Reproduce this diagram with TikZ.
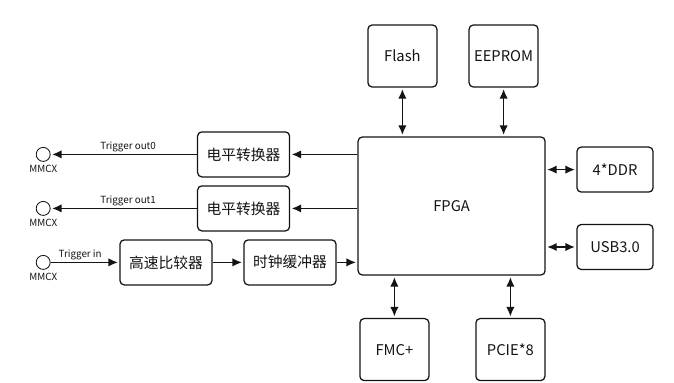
\documentclass[tikz,border=0pt]{standalone}
\usepackage{fontspec}
\setmainfont{Noto Sans CJK SC}
\usetikzlibrary{arrows.meta,positioning}
\definecolor{BdInk}{RGB}{20,20,20}
\tikzset{
  bd/box/.style={
    draw=BdInk,
    line width=0.9pt,
    rounded corners=3pt,
    fill=white,
    align=center,
    text=BdInk,
    minimum width=1.725cm,
    minimum height=1.55cm,
    font=\fontsize{10.5}{12}\selectfont
  },
  bd/wide/.style={bd/box, minimum width=2.3cm, minimum height=1.125cm},
  bd/side/.style={bd/box, minimum width=1.9cm, minimum height=1.125cm},
  bd/port/.style={circle, draw=BdInk, line width=0.6pt, fill=white, minimum size=0.35cm, inner sep=0pt},
  bd/tag/.style={font=\fontsize{7}{8}\selectfont, text=BdInk, inner sep=1pt},
  bd/arrow/.style={-{Latex[length=2.4mm,width=2.1mm]}, line width=1.1pt, draw=BdInk, shorten >=1pt},
  bd/both/.style={{Latex[length=2.4mm,width=2.1mm]}-{Latex[length=2.4mm,width=2.1mm]}, line width=1.1pt, draw=BdInk, shorten >=1pt, shorten <=1pt}
}

\begin{document}
\begin{tikzpicture}[x=1cm,y=1cm]
  \useasboundingbox (0,0) rectangle (16.85,9.55);
  % FPGA and its memories / interfaces
  \node[bd/box,minimum width=4.675cm,minimum height=3.45cm] (fpga) at (11.29,4.40) {FPGA};
  \node[bd/box] (flash) at (10.06,8.15) {Flash};
  \node[bd/box] (eeprom) at (12.59,8.15) {EEPROM};
  \node[bd/box] (fmc) at (9.86,0.81) {FMC+};
  \node[bd/box] (pcie) at (12.76,0.81) {PCIE*8};
  \node[bd/side] (ddr) at (15.375,5.31) {4*DDR};
  \node[bd/side] (usb) at (15.375,3.375) {USB3.0};
  % trigger chain
  \node[bd/wide] (lvl0) at (6.09,5.69) {电平转换器};
  \node[bd/wide] (lvl1) at (6.09,4.34) {电平转换器};
  \node[bd/wide] (comp) at (4.15,2.99) {高速比较器};
  \node[bd/wide] (clkbuf) at (7.25,2.99) {时钟缓冲器};
  \node[bd/port] (c0) at (1.08,5.69) {};
  \node[bd/port] (c1) at (1.08,4.34) {};
  \node[bd/port] (c2) at (1.08,2.99) {};
  \node[bd/tag,below=1.5pt of c0] (m0) {MMCX};
  \node[bd/tag,below=1.5pt of c1] (m1) {MMCX};
  \node[bd/tag,below=1.5pt of c2] (m2) {MMCX};

  \draw[bd/both] (flash) -- (flash |- fpga.north);
  \draw[bd/both] (eeprom) -- (eeprom |- fpga.north);
  \draw[bd/both] (fmc) -- (fmc |- fpga.south);
  \draw[bd/both] (pcie) -- (pcie |- fpga.south);
  \draw[bd/both] (ddr.west -| fpga.east) -- (ddr);
  \draw[bd/both] (usb.west -| fpga.east) -- (usb);

  \draw[bd/arrow] (lvl0 -| fpga.west) -- (lvl0);
  \draw[bd/arrow] (lvl1 -| fpga.west) -- (lvl1);
  \draw[bd/arrow] (lvl0) -- node[bd/tag,above,pos=0.47] {Trigger out0} (c0);
  \draw[bd/arrow] (lvl1) -- node[bd/tag,above,pos=0.47] {Trigger out1} (c1);
  \draw[bd/arrow] (c2) -- node[bd/tag,above,pos=0.43] {Trigger in} (comp);
  \draw[bd/arrow] (comp) -- (clkbuf);
  \draw[bd/arrow] (clkbuf) -- (clkbuf -| fpga.west);
\end{tikzpicture}
\end{document}
